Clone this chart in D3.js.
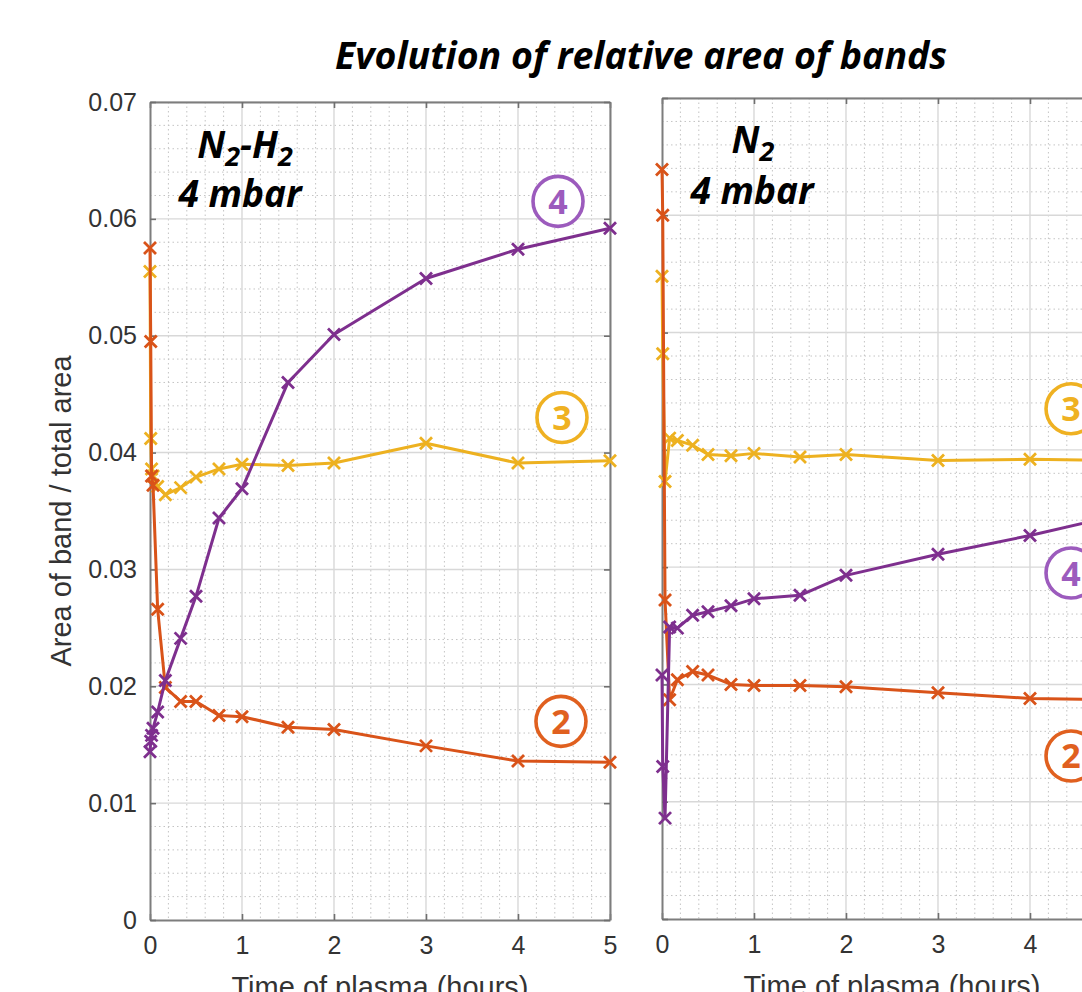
<!DOCTYPE html>
<html>
<head>
<meta charset="utf-8">
<script src="https://cdn.jsdelivr.net/npm/d3@7"></script>
<style>
  html, body { margin: 0; padding: 0; background: #ffffff; }
  svg { display: block; }
</style>
</head>
<body>
<script>
// ---- Measured band areas (fraction of total area) versus plasma time ----
// N2-H2 discharge, 4 mbar
const hoursH2 = [0, 0.008, 0.017, 0.033, 0.083, 0.167, 0.333, 0.5, 0.75, 1, 1.5, 2, 3, 4, 5];
const band2H2 = [0.0575, 0.0495, 0.0380, 0.0372, 0.0266, 0.0199, 0.0187, 0.0187, 0.0175, 0.0174, 0.0165, 0.0163, 0.0149, 0.0136, 0.0135];
const band3H2 = [0.0555, 0.0412, 0.0386, 0.0380, 0.0371, 0.0364, 0.0370, 0.0379, 0.0386, 0.0390, 0.0389, 0.0391, 0.0408, 0.0391, 0.0393];
const band4H2 = [0.0144, 0.0153, 0.0158, 0.0164, 0.0178, 0.0205, 0.0241, 0.0277, 0.0344, 0.0369, 0.0460, 0.0501, 0.0549, 0.0574, 0.0592];

// N2 discharge, 4 mbar
const hoursN2 = [0, 0.008, 0.033, 0.083, 0.167, 0.333, 0.5, 0.75, 1, 1.5, 2, 3, 4, 5];
const band2N2 = [0.0639, 0.0600, 0.0272, 0.0187, 0.0204, 0.0211, 0.0208, 0.0200, 0.0199, 0.0199, 0.0198, 0.0193, 0.0188, 0.0187];
const band3N2 = [0.0548, 0.0482, 0.0373, 0.0410, 0.0408, 0.0404, 0.0396, 0.0395, 0.0397, 0.0394, 0.0396, 0.0391, 0.0392, 0.0391];
const band4N2 = [0.0208, 0.0130, 0.0086, 0.0249, 0.0248, 0.0259, 0.0262, 0.0267, 0.0273, 0.0276, 0.0293, 0.0311, 0.0327, 0.0345];

// Axis ticks and texts
const xTicks = [0, 1, 2, 3, 4, 5];
const yTicks = [0, 0.01, 0.02, 0.03, 0.04, 0.05, 0.06, 0.07];
const yTickLabels = ["0", "0.01", "0.02", "0.03", "0.04", "0.05", "0.06", "0.07"];
const bandNames = ["3", "2", "4"];
const titleText = "Evolution of relative area of bands";
const xLabelText = "Time of plasma (hours)";
const yLabelText = "Area of band / total area";

// ---- Styling ----
const lineColor = { "2": "#D95319", "3": "#EDB120", "4": "#7E2F8E" };
const tagColor  = { "2": "#E0601F", "3": "#EFB122", "4": "#9C5BBD" };
const tickFont = "'Liberation Sans', Arial, Helvetica, sans-serif";
const boldFont = "'Open Sans', Lato, sans-serif";

const W = 1082, H = 992;
const svg = d3.select("body").append("svg")
  .attr("width", W).attr("height", H)
  .attr("viewBox", `0 0 ${W} ${H}`);
svg.append("rect").attr("width", W).attr("height", H).attr("fill", "#ffffff");

const panels = [
  {
    hours: hoursH2,
    series: { "3": band3H2, "2": band2H2, "4": band4H2 },
    frame: { left: 150, right: 610, top: 102, bottom: 920 },
    yLabels: true,
    gasMain: ["N", "2", "-H", "2"], gasX: 245, gasY: 158,
    pressX: 240, pressY: 207,
    tags: { "4": [4.435, 0.0615], "3": [4.478, 0.0430], "2": [4.467, 0.0170] }
  },
  {
    hours: hoursN2,
    series: { "3": band3N2, "2": band2N2, "4": band4N2 },
    frame: { left: 662, right: 1122, top: 98, bottom: 919 },
    yLabels: false,
    gasMain: ["N", "2"], gasX: 753, gasY: 153,
    pressX: 752, pressY: 204,
    tags: { "3": [4.446, 0.0435], "4": [4.446, 0.0295], "2": [4.446, 0.0139] }
  }
];

panels.forEach(p => {
  const f = p.frame;
  const x = d3.scaleLinear().domain([0, 5]).range([f.left, f.right]);
  const y = d3.scaleLinear().domain([0, 0.07]).range([f.bottom, f.top]);
  const g = svg.append("g");

  // minor grid (dotted)
  const xMinor = d3.range(0, 5.0001, 0.2).filter(v => Math.abs(v - Math.round(v)) > 1e-6);
  const yMinor = d3.range(0, 0.07001, 0.002).filter(v => Math.abs(v * 100 - Math.round(v * 100)) > 1e-6);
  const minor = g.append("g").attr("stroke", "#c4c4c4").attr("stroke-width", 1)
    .attr("stroke-dasharray", "1.5,3");
  minor.selectAll(".mx").data(xMinor).join("line")
    .attr("x1", d => x(d)).attr("x2", d => x(d)).attr("y1", f.top).attr("y2", f.bottom);
  minor.selectAll(".my").data(yMinor).join("line")
    .attr("x1", f.left).attr("x2", f.right).attr("y1", d => y(d)).attr("y2", d => y(d));

  // major grid
  const major = g.append("g").attr("stroke", "#d8d8d8").attr("stroke-width", 1.4);
  major.selectAll(".gx").data(xTicks.slice(1)).join("line")
    .attr("x1", d => x(d)).attr("x2", d => x(d)).attr("y1", f.top).attr("y2", f.bottom);
  major.selectAll(".gy").data(yTicks.slice(1)).join("line")
    .attr("x1", f.left).attr("x2", f.right).attr("y1", d => y(d)).attr("y2", d => y(d));

  // axes (ticks pointing inward, box on all sides)
  const styleAxis = sel => {
    sel.select(".domain").attr("stroke", "#7d7d7d").attr("stroke-width", 2);
    sel.selectAll(".tick line").attr("stroke", "#6f6f6f").attr("stroke-width", 1.6);
    sel.selectAll(".tick text").attr("fill", "#333333")
      .style("font-family", tickFont).style("font-size", "25px");
  };
  g.append("g").attr("transform", `translate(0,${f.bottom})`)
    .call(d3.axisBottom(x).tickValues(xTicks).tickFormat(d3.format("d"))
      .tickSizeInner(-6).tickSizeOuter(0).tickPadding(16))
    .call(styleAxis);
  g.append("g").attr("transform", `translate(0,${f.top})`)
    .call(d3.axisTop(x).tickValues(xTicks).tickFormat("")
      .tickSizeInner(-6).tickSizeOuter(0))
    .call(styleAxis);
  g.append("g").attr("transform", `translate(${f.left},0)`)
    .call(d3.axisLeft(y).tickValues(yTicks)
      .tickFormat((d, i) => p.yLabels ? yTickLabels[i] : "")
      .tickSizeInner(-6).tickSizeOuter(0).tickPadding(13))
    .call(styleAxis);
  g.append("g").attr("transform", `translate(${f.right},0)`)
    .call(d3.axisRight(y).tickValues(yTicks).tickFormat("")
      .tickSizeInner(-6).tickSizeOuter(0))
    .call(styleAxis);

  // x axis label
  g.append("text")
    .attr("x", (f.left + f.right) / 2).attr("y", f.bottom + 77)
    .attr("text-anchor", "middle").attr("fill", "#333333")
    .style("font-family", tickFont).style("font-size", "29px")
    .text(xLabelText);

  // series lines with x markers
  const line = d3.line().x(d => x(d[0])).y(d => y(d[1]));
  bandNames.forEach(b => {
    const pts = p.hours.map((t, i) => [t, p.series[b][i]]);
    const sg = g.append("g").attr("stroke", lineColor[b]).attr("fill", "none");
    sg.append("path").attr("d", line(pts)).attr("stroke-width", 3)
      .attr("stroke-linejoin", "round");
    sg.selectAll("path.mk").data(pts).join("path").attr("class", "mk")
      .attr("transform", d => `translate(${x(d[0])},${y(d[1])})`)
      .attr("d", "M-6,-6L6,6M-6,6L6,-6")
      .attr("stroke-width", 2.8);
  });

  // circled band tags
  Object.entries(p.tags).forEach(([b, pos]) => {
    const cx = x(pos[0]), cy = y(pos[1]);
    g.append("circle").attr("cx", cx).attr("cy", cy).attr("r", 25)
      .attr("fill", "#ffffff").attr("stroke", tagColor[b]).attr("stroke-width", 3.6);
    g.append("text").attr("x", cx).attr("y", cy + 12.5)
      .attr("text-anchor", "middle").attr("fill", tagColor[b])
      .style("font-family", boldFont).style("font-weight", 700).style("font-size", "34px")
      .text(b);
  });

  // gas and pressure annotations
  const gas = g.append("text").attr("x", p.gasX).attr("y", p.gasY)
    .attr("text-anchor", "middle").attr("fill", "#000")
    .style("font-family", boldFont).style("font-weight", 700).style("font-style", "italic")
    .style("font-size", "37px");
  p.gasMain.forEach((s, i) => {
    const sub = i % 2 === 1;
    gas.append("tspan").text(s)
      .attr("dy", sub ? 8 : (i === 0 ? 0 : -8))
      .style("font-size", sub ? "27px" : "37px");
  });
  g.append("text").attr("x", p.pressX).attr("y", p.pressY)
    .attr("text-anchor", "middle").attr("fill", "#000")
    .style("font-family", boldFont).style("font-weight", 700).style("font-style", "italic")
    .style("font-size", "37px")
    .text("4 mbar");
});

// y axis label
svg.append("text")
  .attr("transform", "translate(71,511) rotate(-90)")
  .attr("text-anchor", "middle").attr("fill", "#333333")
  .style("font-family", tickFont).style("font-size", "29px")
  .text(yLabelText);

// title
svg.append("text").attr("x", 641).attr("y", 69)
  .attr("text-anchor", "middle").attr("fill", "#000")
  .style("font-family", boldFont).style("font-weight", 700).style("font-style", "italic")
  .style("font-size", "37.5px")
  .text(titleText);
</script>
</body>
</html>
